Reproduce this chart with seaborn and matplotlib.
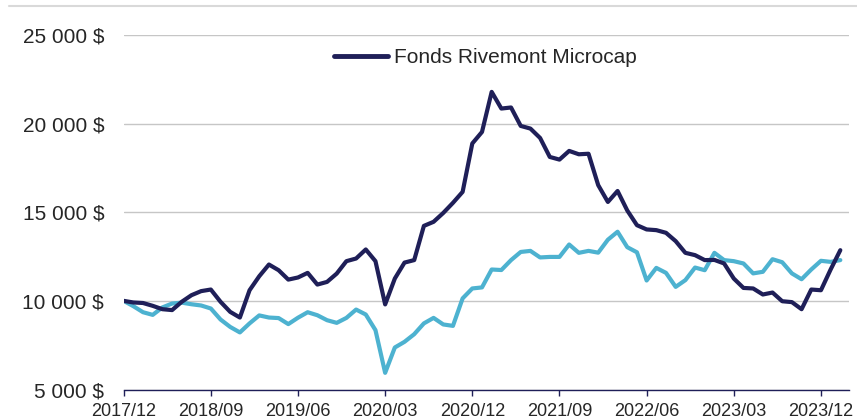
import matplotlib
matplotlib.use('Agg')
import matplotlib.pyplot as plt
from matplotlib.lines import Line2D
import seaborn as sns
import pandas as pd

# monthly values, 2017/12 -> 2024/02
fonds = [10000, 9910, 9880, 9720, 9530, 9480, 9950, 10320, 10550, 10640,
         9950, 9380, 9060, 10600, 11390, 12050, 11730, 11200, 11320, 11580,
         10920, 11070, 11540, 12240, 12390, 12900, 12240, 9800, 11260, 12160,
         12300, 14230, 14460, 14960, 15530, 16150, 18880, 19530, 21790, 20850,
         20910, 19870, 19720, 19190, 18120, 17970, 18460, 18270, 18300, 16530,
         15580, 16200, 15100, 14270, 14030, 13990, 13840, 13370, 12710, 12580,
         12300, 12310, 12110, 11260, 10730, 10700, 10360, 10470, 9980, 9930,
         9530, 10640, 10600, 11770, 12860]
indice = [10000, 9700, 9360, 9210, 9630, 9850, 9900, 9810, 9740, 9570,
          8950, 8530, 8220, 8730, 9180, 9060, 9030, 8690, 9050, 9360,
          9190, 8910, 8760, 9040, 9510, 9230, 8350, 5940, 7370, 7690,
          8120, 8730, 9040, 8670, 8590, 10140, 10700, 10760, 11770, 11740,
          12300, 12760, 12820, 12450, 12480, 12480, 13180, 12710, 12820, 12720,
          13450, 13900, 13030, 12740, 11150, 11860, 11580, 10790, 11170, 11880,
          11730, 12710, 12300, 12240, 12110, 11550, 11640, 12350, 12180, 11550,
          11220, 11770, 12260, 12200, 12300]
tick_labels = ['2017/12', '2018/09', '2019/06', '2020/03', '2020/12',
               '2021/09', '2022/06', '2023/03', '2023/12']
y_ticks = [5000, 10000, 15000, 20000, 25000]

months = list(range(len(fonds)))
df = pd.DataFrame({'mois': months + months,
                   'valeur': fonds + indice,
                   'serie': ['Fonds Rivemont Microcap'] * len(fonds) + ['Indice'] * len(indice)})

sns.set_style('white')
plt.rcParams['font.family'] = ['Liberation Sans', 'DejaVu Sans']

fig = plt.figure(figsize=(8.57, 4.19), dpi=100)
ax = fig.add_axes([0.1443, 0.0704, 0.8464, 0.8461])

sns.lineplot(data=df, x='mois', y='valeur', hue='serie',
             palette={'Fonds Rivemont Microcap': '#1f1f58', 'Indice': '#4db2d0'},
             hue_order=['Indice', 'Fonds Rivemont Microcap'],
             linewidth=3, ax=ax, legend=False)

ax.set_xlim(0, 74.9)
ax.set_ylim(5000, 25000)
ax.set_xticks(range(0, 73, 9))
ax.set_xticklabels(tick_labels)
ax.set_yticks(y_ticks)
ax.set_yticklabels([f'{v:,}'.replace(',', ' ') + ' $' for v in y_ticks])
ax.set_xlabel('')
ax.set_ylabel('')

ax.yaxis.grid(True, color='#c6c6c6', linewidth=1)
ax.set_axisbelow(True)
for side in ['top', 'right', 'left']:
    ax.spines[side].set_visible(False)
ax.spines['bottom'].set_color('#1f1f58')
ax.spines['bottom'].set_linewidth(1)
ax.tick_params(axis='x', length=4.5, width=1, color='#1f1f58', pad=5, labelsize=13, direction='out', bottom=True)
ax.tick_params(axis='y', length=0, pad=14, labelsize=15)

handle = Line2D([], [], color='#1f1f58', linewidth=3.5)
fig.legend([handle], ['Fonds Rivemont Microcap'], loc='center',
           bbox_to_anchor=(0.5665, 0.8616), frameon=False, fontsize=15,
           handlelength=2.6, handletextpad=0.3)

# thin line along the top of the figure
fig.add_artist(Line2D([0.01, 1.0], [0.986, 0.986], color='#d9d9d9', linewidth=1.5))

plt.savefig('out.png', dpi=100)
